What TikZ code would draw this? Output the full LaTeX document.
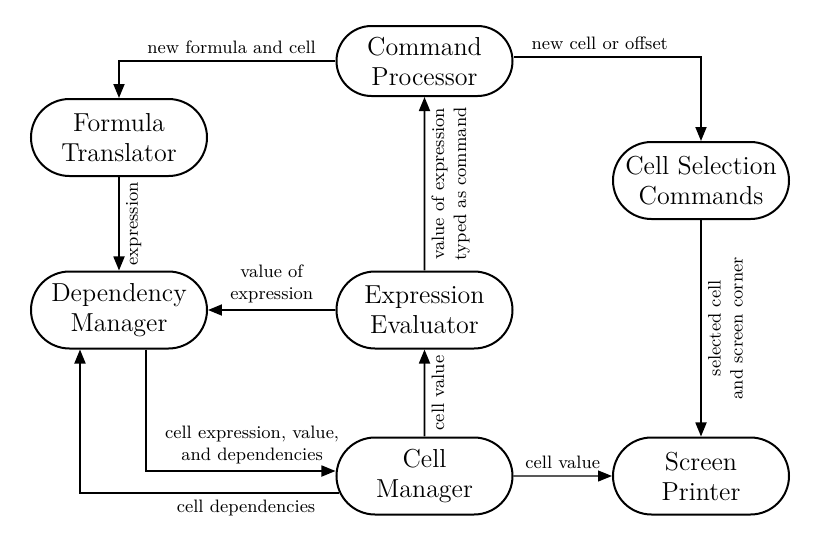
\documentclass[tikz,border=0pt]{standalone}
\usepackage{tikz}
\usetikzlibrary{arrows.meta,positioning,shapes.misc}

\begin{document}
\begin{tikzpicture}[>={Triangle[length=7pt,width=5.5pt]},line width=0.9pt,on grid,
   proc/.style={rounded rectangle,draw,line width=1pt,minimum width=92pt,minimum height=38.5pt,
                align=center,font=\fontsize{13pt}{15pt}\selectfont,inner sep=2pt},
   lbl/.style={font=\small,align=center,inner sep=3.5pt,line width=0pt},
   vlbl/.style={lbl,rotate=90,anchor=north}] 
   \useasboundingbox (-212.25pt,-243pt) rectangle (202.75pt,30.5pt);
   \node[proc,minimum height=35pt] (CP) {Command\\Processor}; 
   \node[proc] (EE) [below=124.5pt of CP] {Expression\\Evaluator}; 
   \node[proc] (CM) [below=83pt of EE] {Cell\\Manager};
   \node[proc] (DM) [left=152.75pt of EE] {Dependency\\Manager}; 
   \node[proc] (FT) [above=86.25pt of DM] {Formula\\Translator}; 
   \node[proc] (SP) [right=138.25pt of CM] {Screen\\Printer};
   \node[proc] (CSC) [above=147.75pt of SP] {Cell Selection\\Commands}; 
    \path[->] 
    (FT)  edge node[vlbl] {expression} (DM)
    (EE)  edge node[vlbl] {value of expression\\typed as command} (CP)
          edge node[lbl,above] {value of\\expression} (DM)
    (CM)  edge node[vlbl] {cell value} (EE)
          edge [line width=0.6pt] node[lbl,above] {cell value} (SP)
    (CSC) edge node[vlbl] {selected cell\\and screen corner} (SP);
    \draw[->] (CP.west) -| node[lbl,above,pos=0.24] {new formula and cell} (FT.north);
    \draw[->] ([yshift=2pt]CP.east) -| node[lbl,above,pos=0.23] {new cell or offset} (CSC.north);
    \draw[->] ([xshift=13.5pt]DM.south) |- node[lbl,above,pos=0.78] {cell expression, value,\\and dependencies} ([yshift=2.5pt]CM.west);
    \draw[->] ([xshift=2pt,yshift=-8.5pt]CM.west) -| node[lbl,below,pos=0.18] {cell dependencies} ([xshift=-19.5pt]DM.south);
\end{tikzpicture}
\end{document}
